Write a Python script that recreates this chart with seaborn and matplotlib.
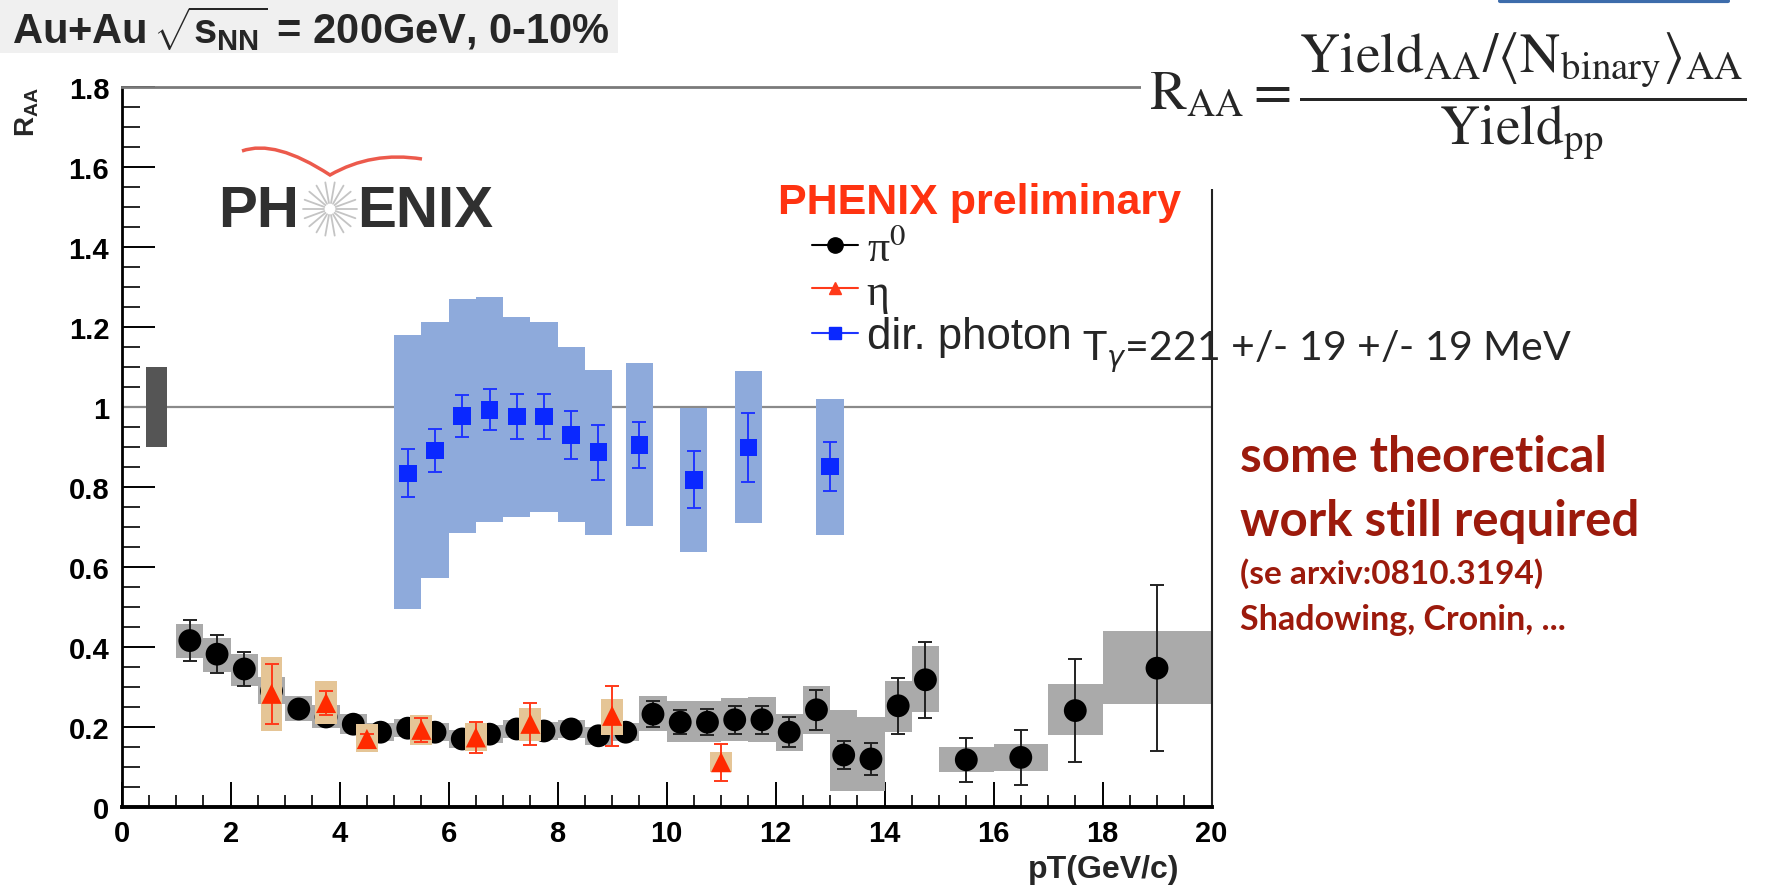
import numpy as np
import pandas as pd
import matplotlib
matplotlib.use("Agg")
import matplotlib.pyplot as plt
import seaborn as sns
from matplotlib.lines import Line2D
from matplotlib.patches import Rectangle, PathPatch
from matplotlib.path import Path
from matplotlib import font_manager

# ---------------- data ----------------
pi0_pt = [1.25, 1.75, 2.25, 2.75, 3.25, 3.75, 4.25, 4.75, 5.25, 5.75, 6.25, 6.75, 7.25, 7.75,
          8.25, 8.75, 9.25, 9.75, 10.25, 10.75, 11.25, 11.75, 12.25, 12.75, 13.25, 13.75,
          14.25, 14.75, 15.5, 16.5, 17.5, 19.0]
pi0_raa = [0.416, 0.382, 0.345, 0.290, 0.245, 0.225, 0.207, 0.187, 0.197, 0.187, 0.170, 0.182,
           0.195, 0.190, 0.195, 0.178, 0.187, 0.232, 0.212, 0.212, 0.218, 0.218, 0.187, 0.243,
           0.130, 0.120, 0.253, 0.318, 0.118, 0.124, 0.241, 0.347]
pi0_stat = [0.052, 0.047, 0.042, 0.030, 0.016, 0.014, 0.012, 0.010, 0.010, 0.010, 0.010, 0.010,
            0.010, 0.010, 0.010, 0.011, 0.012, 0.033, 0.030, 0.032, 0.035, 0.035, 0.037, 0.050,
            0.036, 0.040, 0.070, 0.095, 0.055, 0.068, 0.128, 0.207]
pi0_sys_lo = [0.372, 0.338, 0.303, 0.258, 0.216, 0.197, 0.183, 0.165, 0.175, 0.165, 0.148, 0.160,
              0.173, 0.168, 0.173, 0.156, 0.165, 0.190, 0.162, 0.162, 0.164, 0.162, 0.140, 0.182,
              0.040, 0.040, 0.187, 0.237, 0.087, 0.091, 0.180, 0.258]
pi0_sys_hi = [0.457, 0.422, 0.383, 0.325, 0.278, 0.255, 0.232, 0.209, 0.219, 0.209, 0.192, 0.204,
              0.217, 0.212, 0.217, 0.200, 0.210, 0.277, 0.264, 0.264, 0.272, 0.275, 0.233, 0.303,
              0.243, 0.224, 0.316, 0.402, 0.149, 0.158, 0.308, 0.440]
pi0_binw = [0.5] * 28 + [1.0, 1.0, 1.0, 2.0]

eta_pt = [2.75, 3.75, 4.5, 5.5, 6.5, 7.5, 9.0, 11.0]
eta_raa = [0.283, 0.260, 0.170, 0.193, 0.174, 0.208, 0.228, 0.112]
eta_stat = [0.075, 0.030, 0.012, 0.030, 0.038, 0.053, 0.075, 0.046]
eta_sys_lo = [0.190, 0.208, 0.138, 0.155, 0.141, 0.166, 0.180, 0.087]
eta_sys_hi = [0.374, 0.316, 0.208, 0.230, 0.210, 0.247, 0.270, 0.137]
eta_binw = [0.4] * 8

gam_pt = [5.25, 5.75, 6.25, 6.75, 7.25, 7.75, 8.25, 8.75, 9.5, 10.5, 11.5, 13.0]
gam_raa = [0.834, 0.891, 0.978, 0.993, 0.976, 0.976, 0.930, 0.887, 0.905, 0.818, 0.899, 0.851]
gam_stat = [0.060, 0.053, 0.052, 0.051, 0.056, 0.056, 0.060, 0.069, 0.058, 0.071, 0.086, 0.062]
gam_sys_lo = [0.495, 0.572, 0.684, 0.713, 0.726, 0.738, 0.713, 0.680, 0.703, 0.638, 0.709, 0.680]
gam_sys_hi = [1.180, 1.212, 1.270, 1.276, 1.226, 1.212, 1.149, 1.093, 1.109, 0.998, 1.091, 1.020]
gam_binw = [0.5] * 12

norm_pt = [0.64]
norm_lo = [0.90]
norm_hi = [1.10]
norm_binw = [0.38]

x_ticks = [0, 2, 4, 6, 8, 10, 12, 14, 16, 18, 20]
y_ticks = [0, 0.2, 0.4, 0.6, 0.8, 1, 1.2, 1.4, 1.6, 1.8]
y_tick_labels = ["0", "0.2", "0.4", "0.6", "0.8", "1", "1.2", "1.4", "1.6", "1.8"]
legend_labels = ["π$^{0}$", "η", "dir. photon"]

# ---------------- style ----------------
sns.set_theme(style="ticks")
names = {f.name for f in font_manager.fontManager.ttflist}
SANS = "Liberation Sans" if "Liberation Sans" in names else "DejaVu Sans"
SERIF = "Liberation Serif" if "Liberation Serif" in names else "DejaVu Serif"
CAL = "Lato" if "Lato" in names else "DejaVu Sans"
plt.rcParams["font.family"] = [SANS, "DejaVu Sans"]
plt.rcParams["mathtext.fontset"] = "custom"
plt.rcParams["mathtext.rm"] = SANS + ":bold"
plt.rcParams["mathtext.it"] = SANS + ":bold"
plt.rcParams["mathtext.bf"] = SANS + ":bold"

W, H = 1767, 887
fx = lambda px: px / W
fy = lambda py: 1 - py / H

fig = plt.figure(figsize=(W / 100, H / 100), dpi=100)
fig.patch.set_facecolor("white")
ax = fig.add_axes([fx(121.7), fy(808), (1211.5 - 121.7) / W, (808 - 87.9) / H])
ax.set_facecolor("white")

df_pi0 = pd.DataFrame({"pt": pi0_pt, "raa": pi0_raa})
df_eta = pd.DataFrame({"pt": eta_pt, "raa": eta_raa})
df_gam = pd.DataFrame({"pt": gam_pt, "raa": gam_raa})

# reference line at 1
ax.axhline(1.0, color="#8a8a8a", lw=1.6, zorder=1)

# normalization box
ax.bar(norm_pt, np.subtract(norm_hi, norm_lo), width=norm_binw, bottom=norm_lo,
       color="#555555", edgecolor="none", zorder=2)

# photon
ax.bar(gam_pt, np.subtract(gam_sys_hi, gam_sys_lo), width=gam_binw, bottom=gam_sys_lo,
       color="#8eaadb", edgecolor="none", zorder=2)
ax.errorbar(gam_pt, gam_raa, yerr=gam_stat, fmt="none", ecolor="#1f35ff", elinewidth=1.4,
            capsize=5, capthick=1.4, zorder=3)
sns.scatterplot(data=df_gam, x="pt", y="raa", marker="s", s=160, color="#0a28ff",
                edgecolor="none", zorder=4, ax=ax, legend=False)

# pi0
ax.bar(pi0_pt, np.subtract(pi0_sys_hi, pi0_sys_lo), width=pi0_binw, bottom=pi0_sys_lo,
       color="#aaaaaa", edgecolor="none", zorder=2)
ax.errorbar(pi0_pt, pi0_raa, yerr=pi0_stat, fmt="none", ecolor="#222222", elinewidth=1.4,
            capsize=5, capthick=1.4, zorder=3)
sns.scatterplot(data=df_pi0, x="pt", y="raa", marker="o", s=270, color="black",
                edgecolor="none", zorder=4, ax=ax, legend=False)

# eta
ax.bar(eta_pt, np.subtract(eta_sys_hi, eta_sys_lo), width=eta_binw, bottom=eta_sys_lo,
       color="#e5c596", edgecolor="none", zorder=5)
ax.errorbar(eta_pt, eta_raa, yerr=eta_stat, fmt="none", ecolor="#ff3a1a", elinewidth=1.4,
            capsize=5, capthick=1.4, zorder=6)
sns.scatterplot(data=df_eta, x="pt", y="raa", marker="^", s=210, color="#ff2a00",
                edgecolor="none", zorder=7, ax=ax, legend=False)

# axes
ax.set_xlim(0, 20)
ax.set_ylim(0, 1.8)
ax.set_xticks(x_ticks)
ax.set_xticklabels([str(t) for t in x_ticks])
ax.set_yticks(y_ticks)
ax.set_yticklabels(y_tick_labels)
ax.set_xticks(np.arange(0, 20.01, 0.5), minor=True)
ax.set_yticks(np.arange(0, 1.801, 0.05), minor=True)
ax.tick_params(axis="y", which="major", direction="in", length=24, width=1.4, pad=9,
               labelsize=21, colors="black", left=True, right=False)
ax.tick_params(axis="y", which="minor", direction="in", length=13, width=1.4, left=True, right=False)
ax.tick_params(axis="x", which="major", direction="in", length=18, width=1.4, pad=9,
               labelsize=21, colors="black", bottom=True, top=False)
ax.tick_params(axis="x", which="minor", direction="in", length=9, width=1.4, bottom=True, top=False)
for lab in ax.get_xticklabels() + ax.get_yticklabels():
    lab.set_fontweight("bold")
ax.set_xlabel("")
ax.set_ylabel("")
ax.spines["left"].set_color("black")
ax.spines["left"].set_linewidth(2.0)
ax.spines["bottom"].set_color("black")
ax.spines["bottom"].set_linewidth(2.8)
ax.spines["right"].set_color("#222222")
ax.spines["right"].set_linewidth(1.5)
ax.spines["top"].set_color("#7a7a7a")
ax.spines["top"].set_linewidth(2.0)

# axis titles
fig.text(fx(1179), fy(870), "pT(GeV/c)", fontsize=23, fontweight="bold", ha="right", va="center")
fig.text(fx(27), fy(112), r"R$_{AA}$", fontsize=20, fontweight="bold", rotation=90,
         ha="center", va="center", math_fontfamily="custom")

# title with grey background
fig.patches.append(Rectangle((0, fy(54)), 618 / W, 54 / H, transform=fig.transFigure,
                             facecolor="#f0f0f0", edgecolor="none", zorder=0))
fig.text(fx(12), fy(29), r"Au+Au$\,\sqrt{s_{NN}}$ = 200GeV, 0-10%", fontsize=30,
         fontweight="bold", ha="left", va="center", math_fontfamily="custom", zorder=2)

# legend
handles = [Line2D([0], [0], color="black", lw=1.5, marker="o", ms=11),
           Line2D([0], [0], color="#ff3a1a", lw=1.5, marker="^", ms=9),
           Line2D([0], [0], color="#1f35ff", lw=1.5, marker="s", ms=9, markerfacecolor="#0a28ff",
                  markeredgecolor="#0a28ff")]
leg = ax.legend(handles, legend_labels, loc="upper left", bbox_to_anchor=(fx(812), fy(229)),
                bbox_transform=fig.transFigure, frameon=False, fontsize=31.5, handlelength=1.05,
                handletextpad=0.2, labelspacing=0.08, borderpad=0, borderaxespad=0)
texts = leg.get_texts()
for t in texts[:2]:
    t.set_fontfamily([SERIF, "DejaVu Serif"])
    t.set_math_fontfamily("stix")
texts[2].set_fontweight("normal")
fig.text(fx(778), fy(203), "PHENIX preliminary", fontsize=31, fontweight="bold",
         color="#ff3311", ha="left", va="center")

# temperature text
fig.text(fx(1082), fy(352), r"T$_{\gamma}$=221 +/- 19 +/- 19 MeV", fontfamily=CAL, fontsize=29.5,
         ha="left", va="center", math_fontfamily="dejavusans")

# red comments
red = "#9c1a0c"
fig.text(fx(1240), fy(458), "some theoretical", fontfamily=CAL, fontweight="bold", fontsize=35.5,
         color=red, ha="left", va="center")
fig.text(fx(1240), fy(521), "work still required", fontfamily=CAL, fontweight="bold", fontsize=35.5,
         color=red, ha="left", va="center")
fig.text(fx(1240), fy(574), "(se arxiv:0810.3194)", fontfamily=CAL, fontweight="bold", fontsize=24,
         color=red, ha="left", va="center")
fig.text(fx(1240), fy(620), "Shadowing, Cronin, ...", fontfamily=CAL, fontweight="bold", fontsize=24.5,
         color=red, ha="left", va="center")

# formula box
fig.patches.append(Rectangle((fx(1141), fy(190)), (W - 1141) / W, (190 - 8) / H,
                             transform=fig.transFigure, facecolor="white", edgecolor="none",
                             zorder=3))
fig.text(fx(1149), fy(96),
         r"$\mathrm{R}_{\mathrm{AA}} = \dfrac{\mathrm{Yield}_{\mathrm{AA}}/\langle\mathrm{N}_{\mathrm{binary}}\rangle_{\mathrm{AA}}}{\mathrm{Yield}_{\mathrm{pp}}}$",
         fontsize=40, math_fontfamily="stix", ha="left", va="center", zorder=4)
fig.add_artist(Line2D([fx(1500), fx(1728)], [fy(1.5), fy(1.5)], color="#3d6cab", lw=3,
                      transform=fig.transFigure))

# PHENIX logo
fig.text(fx(218), fy(212), "PH", fontsize=42, fontweight="bold", color="#303030",
         ha="left", va="center")
fig.text(fx(357), fy(212), "ENIX", fontsize=42, fontweight="bold", color="#303030",
         ha="left", va="center")
cx, cy = 330, 210
for a in np.linspace(0, 2 * np.pi, 18, endpoint=False):
    fig.add_artist(Line2D([fx(cx + 6 * np.cos(a)), fx(cx + 27 * np.cos(a))],
                          [fy(cy + 6 * np.sin(a)), fy(cy + 27 * np.sin(a))],
                          color="#c4c4c4", lw=1.3, transform=fig.transFigure))
arc_pts = [(242, 152), (275, 140), (330, 176), (372, 152), (422, 160)]
verts = [(fx(px), fy(py)) for px, py in arc_pts]
path = Path(verts, [Path.MOVETO, Path.CURVE3, Path.CURVE3, Path.CURVE3, Path.CURVE3])
fig.patches.append(PathPatch(path, transform=fig.transFigure, fill=False,
                             edgecolor="#ec5a4c", lw=2.5, zorder=2))

fig.savefig("out.png", dpi=100, facecolor="white")
